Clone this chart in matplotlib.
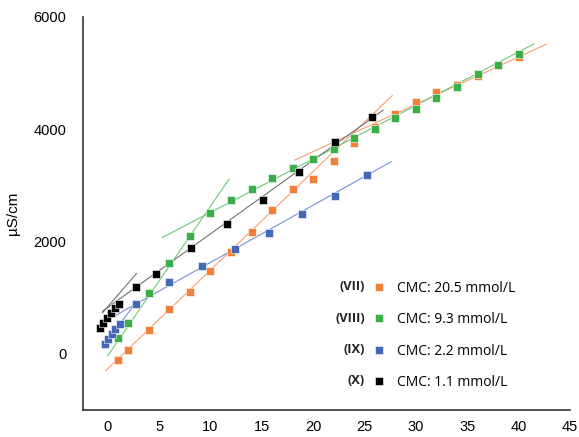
import matplotlib.pyplot as plt

plt.rcParams['font.family'] = ['Liberation Sans', 'DejaVu Sans']

# 데이터
x_vii = [1, 2, 4, 6, 8, 10, 12, 14, 16, 18, 20, 22, 24, 26, 28, 30, 32, 34, 36, 38, 40]
y_vii = [-107, 71, 430, 800, 1107, 1482, 1821, 2161, 2554, 2929, 3107, 3429, 3750, 4036,
         4268, 4482, 4661, 4786, 4947, 5143, 5286]
x_viii = [1, 2, 4, 6, 8, 10, 12, 14, 16, 18, 20, 22, 24, 26, 28, 30, 32, 34, 36, 38, 40]
y_viii = [286, 554, 1089, 1625, 2107, 2500, 2732, 2929, 3125, 3304, 3464, 3643, 3839, 4000,
          4196, 4357, 4554, 4750, 4982, 5150, 5339]
x_ix = [-0.3, 0.0, 0.4, 0.7, 1.2, 2.8, 6.0, 9.2, 12.4, 15.7, 18.9, 22.1, 25.2]
y_ix = [179, 268, 357, 446, 536, 893, 1286, 1571, 1875, 2143, 2482, 2804, 3179]
x_x = [-0.7, -0.5, -0.1, 0.3, 0.7, 1.1, 2.8, 4.7, 8.1, 11.6, 15.1, 18.6, 22.1, 25.7]
y_x = [464, 554, 643, 732, 821, 893, 1196, 1429, 1893, 2321, 2732, 3232, 3768, 4214]

# 추세선 (양 끝점)
fits = {
    'vii': [([-0.2, 27.7], [-300, 4600]), ([18.2, 42.7], [3450, 5515])],
    'viii': [([0.0, 11.8], [-36, 3107]), ([5.3, 41.5], [2070, 5520])],
    'ix': [([-0.5, 2.5], [130, 850]), ([-0.5, 27.6], [556, 3422])],
    'x': [([-0.5, 2.8], [732, 1429]), ([-0.5, 26.8], [760, 4339])],
}

series = [
    ('vii', x_vii, y_vii, '#F07F3C', '#F5A070', '(VII)', 'CMC: 20.5 mmol/L'),
    ('viii', x_viii, y_viii, '#3AAF48', '#6CC877', '(VIII)', 'CMC: 9.3 mmol/L'),
    ('ix', x_ix, y_ix, '#4468B8', '#7790CC', '(IX)', 'CMC: 2.2 mmol/L'),
    ('x', x_x, y_x, '#000000', '#707070', '(X)', 'CMC: 1.1 mmol/L'),
]

fig = plt.figure(figsize=(5.79, 4.37), dpi=100)
ax = fig.add_axes([0.1434, 0.0618, 0.841, 0.8995])

handles = []
for key, xs, ys, col, lcol, roman, lab in series:
    for fx, fy in fits[key]:
        ax.plot(fx, fy, color=lcol, lw=0.8, zorder=2)
    h, = ax.plot(xs, ys, 's', color=col, ms=6.3, mec='white', mew=0.4, zorder=3,
                 label=lab)
    handles.append(h)

ax.set_xlim(-2.4, 45)
ax.set_ylim(-1000, 6000)
ax.set_xticks(range(0, 50, 5))
ax.set_yticks([0, 2000, 4000, 6000])
ax.tick_params(length=0, labelsize=10.5)
ax.tick_params(axis='x', pad=7)
ax.tick_params(axis='y', pad=12)
ax.set_ylabel('µS/cm', fontsize=11, labelpad=10)
for s in ['top', 'right']:
    ax.spines[s].set_visible(False)
for s in ['left', 'bottom']:
    ax.spines[s].set_color('#333333')
    ax.spines[s].set_linewidth(1.2)

leg = ax.legend(handles=handles, loc='upper left', bbox_to_anchor=(0.57, 0.361),
                frameon=False, labelspacing=1.19, handlelength=0.8,
                handletextpad=0.9, markerscale=0.85,
                prop={'family': ['Open Sans', 'DejaVu Sans'], 'size': 10})
for i, s in enumerate(series):
    ax.text(0.579, 0.313 - i * 0.079, s[5], transform=ax.transAxes, ha='right',
            va='center', fontsize=9.3, fontweight='bold', color='#222222',
            family=['Open Sans', 'DejaVu Sans'])

fig.savefig('out.png', dpi=100)
